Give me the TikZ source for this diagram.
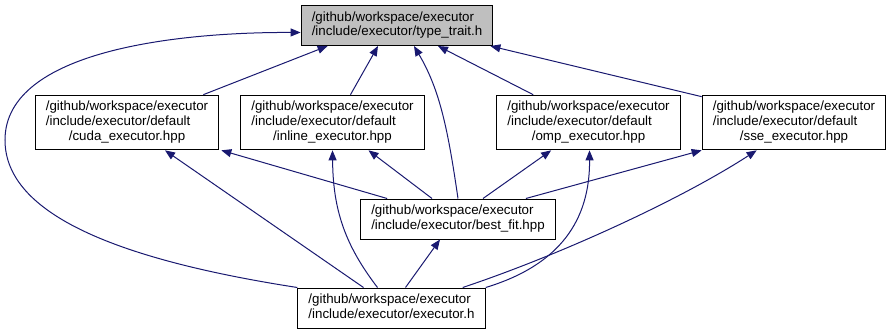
\documentclass[tikz,border=0pt]{standalone}
\usepackage{fontspec}
\setmainfont{Liberation Sans}
\usepackage{tikz}
\usetikzlibrary{arrows.meta,calc}

\definecolor{edgeblue}{RGB}{25,25,112}
\definecolor{rootgray}{RGB}{191,191,191}

\newcommand{\twoline}[2]{\begin{tabular}{@{}l@{}}#1\\#2\end{tabular}}
\newcommand{\threeline}[3]{\begin{tabular}{@{}l@{}}#1\\#2\\\multicolumn{1}{@{}c@{}}{#3}\end{tabular}}

\begin{document}
\begin{tikzpicture}[x=0.75pt,y=-0.75pt]

 \tikzstyle{header}=[draw=black,line width=0.75pt,inner xsep=8pt,inner ysep=4pt,
font=\fontsize{10}{11}\selectfont]
 \tikzstyle{root}=[header,fill=rootgray]
 \tikzstyle{incl}=[draw=edgeblue,line width=0.75pt,
-{Triangle[length=7.5pt,width=6pt,fill=edgeblue]}]

\useasboundingbox (0,0) rectangle (890,335);

% Header boxes
\node[root] (H_TT) at (397,25.5) {\twoline{/github/workspace/executor}{/include/executor/type\_trait.h}};

\node[header] (H_CUDA) at (127,122.5) {\threeline{/github/workspace/executor}{/include/executor/default}{/cuda\_executor.hpp}};
\node[header] (H_INL) at (332.5,122.5) {\threeline{/github/workspace/executor}{/include/executor/default}{/inline\_executor.hpp}};
\node[header] (H_OMP) at (588.5,122.5) {\threeline{/github/workspace/executor}{/include/executor/default}{/omp\_executor.hpp}};
\node[header] (H_SSE) at (794,122.5) {\threeline{/github/workspace/executor}{/include/executor/default}{/sse\_executor.hpp}};

\node[header] (H_BEST) at (458,219) {\twoline{/github/workspace/executor}{/include/executor/best\_fit.hpp}};
\node[header] (H_EXE) at (391.5,308) {\twoline{/github/workspace/executor}{/include/executor/executor.h}};

% Includes of type_trait.h
\draw[incl] ($(H_CUDA.north east)+(-16,0)$) -- ($(H_TT.south west)+(27,0)$);
\draw[incl] ($(H_INL.north)+(18,0)$) -- ($(H_TT.south)+(-19,0)$);
\draw[incl] (H_BEST.north) .. controls (448,130) and (440,90) .. ($(H_TT.south)+(17,0)$);
\draw[incl] ($(H_OMP.north west)+(37,0)$) -- ($(H_TT.south)+(41,0)$);
\draw[incl] ($(H_SSE.north west)+(0,2)$) -- ($(H_TT.south east)+(-3,0)$);
\draw[incl] (H_EXE.north west) .. controls (120,260) and (5,215) .. (5,140)
  .. controls (5,50) and (180,32) .. ($(H_TT.west)+(0,7)$);

% Includes of the default executors
\draw[incl] ($(H_BEST.north west)+(27,0)$) -- ($(H_CUDA.south east)+(2,0)$);
\draw[incl] ($(H_EXE.north)+(-28,0)$) -- ($(H_CUDA.south)+(38,0)$);

\draw[incl] ($(H_BEST.north)+(-26,0)$) -- ($(H_INL.south)+(36,0)$);
\draw[incl] ($(H_EXE.north)+(-14,0)$) .. controls (345,245) and (333,210) .. (H_INL.south);

\draw[incl] ($(H_BEST.north)+(25,0)$) -- ($(H_OMP.south west)+(55,0)$);
\draw[incl] (H_EXE.north east) .. controls (560,265) and (590,220) .. ($(H_OMP.south)+(1,0)$);

\draw[incl] ($(H_BEST.north east)+(-30,0)$) -- (H_SSE.south west);
\draw[incl] ($(H_EXE.north east)+(-23,0)$) .. controls (560,255) and (680,200) .. ($(H_SSE.south west)+(55,0)$);

% Include of best_fit.hpp
\draw[incl] ($(H_EXE.north)+(14,0)$) -- ($(H_BEST.south)+(-18,0)$);

\end{tikzpicture}
\end{document}
